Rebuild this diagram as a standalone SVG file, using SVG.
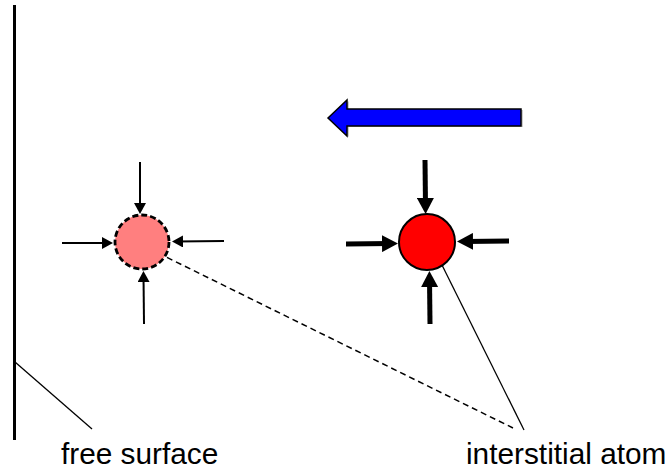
<svg xmlns="http://www.w3.org/2000/svg" width="668" height="473" viewBox="0 0 668 473">
<style>
.lbl{font-family:"Liberation Sans",Arial,sans-serif;font-size:29.8px;fill:#000}
.thin{stroke:#000;stroke-width:2;fill:none}
.thick{stroke:#000;stroke-width:5;fill:none}
.lead{stroke:#000;stroke-width:1.3;fill:none}
</style>
<defs>
<marker id="hs" markerUnits="userSpaceOnUse" viewBox="0 0 11 12" markerWidth="11" markerHeight="12" refX="7" refY="6" orient="auto"><path d="M0,0 L11,6 L0,12 z" fill="#000"/></marker>
<marker id="hl" markerUnits="userSpaceOnUse" viewBox="0 0 16 17" markerWidth="16" markerHeight="17" refX="8" refY="8.5" orient="auto"><path d="M0,0 L16,8.5 L0,17 z" fill="#000"/></marker>
</defs>
<rect width="668" height="473" fill="#fff"/>
<g id="surface">
<line x1="14.5" y1="5" x2="14.5" y2="440" stroke="#000" stroke-width="3"/>
</g>
<g id="connectors">
<line class="lead" x1="15" y1="362" x2="92" y2="429"/>
<line x1="158" y1="253" x2="513" y2="428" stroke="#000" stroke-width="1.5" stroke-dasharray="6,4"/>
<line class="lead" x1="437" y1="255" x2="524" y2="430"/>
</g>
<g id="old-atom">
<circle cx="142" cy="242" r="27" fill="#FF7F7F" stroke="#000" stroke-width="2.8" stroke-dasharray="6,3"/>
<line class="thin" x1="140" y1="162" x2="140" y2="210" marker-end="url(#hs)"/>
<line class="thin" x1="144" y1="324" x2="143.5" y2="275" marker-end="url(#hs)"/>
<line class="thin" x1="62" y1="243" x2="109" y2="243" marker-end="url(#hs)"/>
<line class="thin" x1="224" y1="241" x2="176" y2="241.5" marker-end="url(#hs)"/>
</g>
<g id="interstitial-atom">
<circle cx="427" cy="242" r="28" fill="#FF0000" stroke="#000" stroke-width="2"/>
<line class="thick" x1="425" y1="160" x2="425.5" y2="206" marker-end="url(#hl)"/>
<line class="thick" x1="430" y1="324" x2="429.5" y2="279" marker-end="url(#hl)"/>
<line class="thick" x1="346" y1="244" x2="390" y2="243.5" marker-end="url(#hl)"/>
<line class="thick" x1="509" y1="241" x2="465" y2="241.5" marker-end="url(#hl)"/>
</g>
<g id="motion-arrow">
<polygon points="330,119 349,101 349,110 523,110 523,127 349,127 349,137" fill="#999" opacity="0.5"/>
<polygon points="328,118 347,100 347,109 521,109 521,126 347,126 347,136" fill="#0000FF" stroke="#000" stroke-width="1.5" stroke-linejoin="miter"/>
</g>
<g id="labels">
<text class="lbl" x="61" y="464">free surface</text>
<text class="lbl" x="466" y="464">interstitial atom</text>
</g>
</svg>
